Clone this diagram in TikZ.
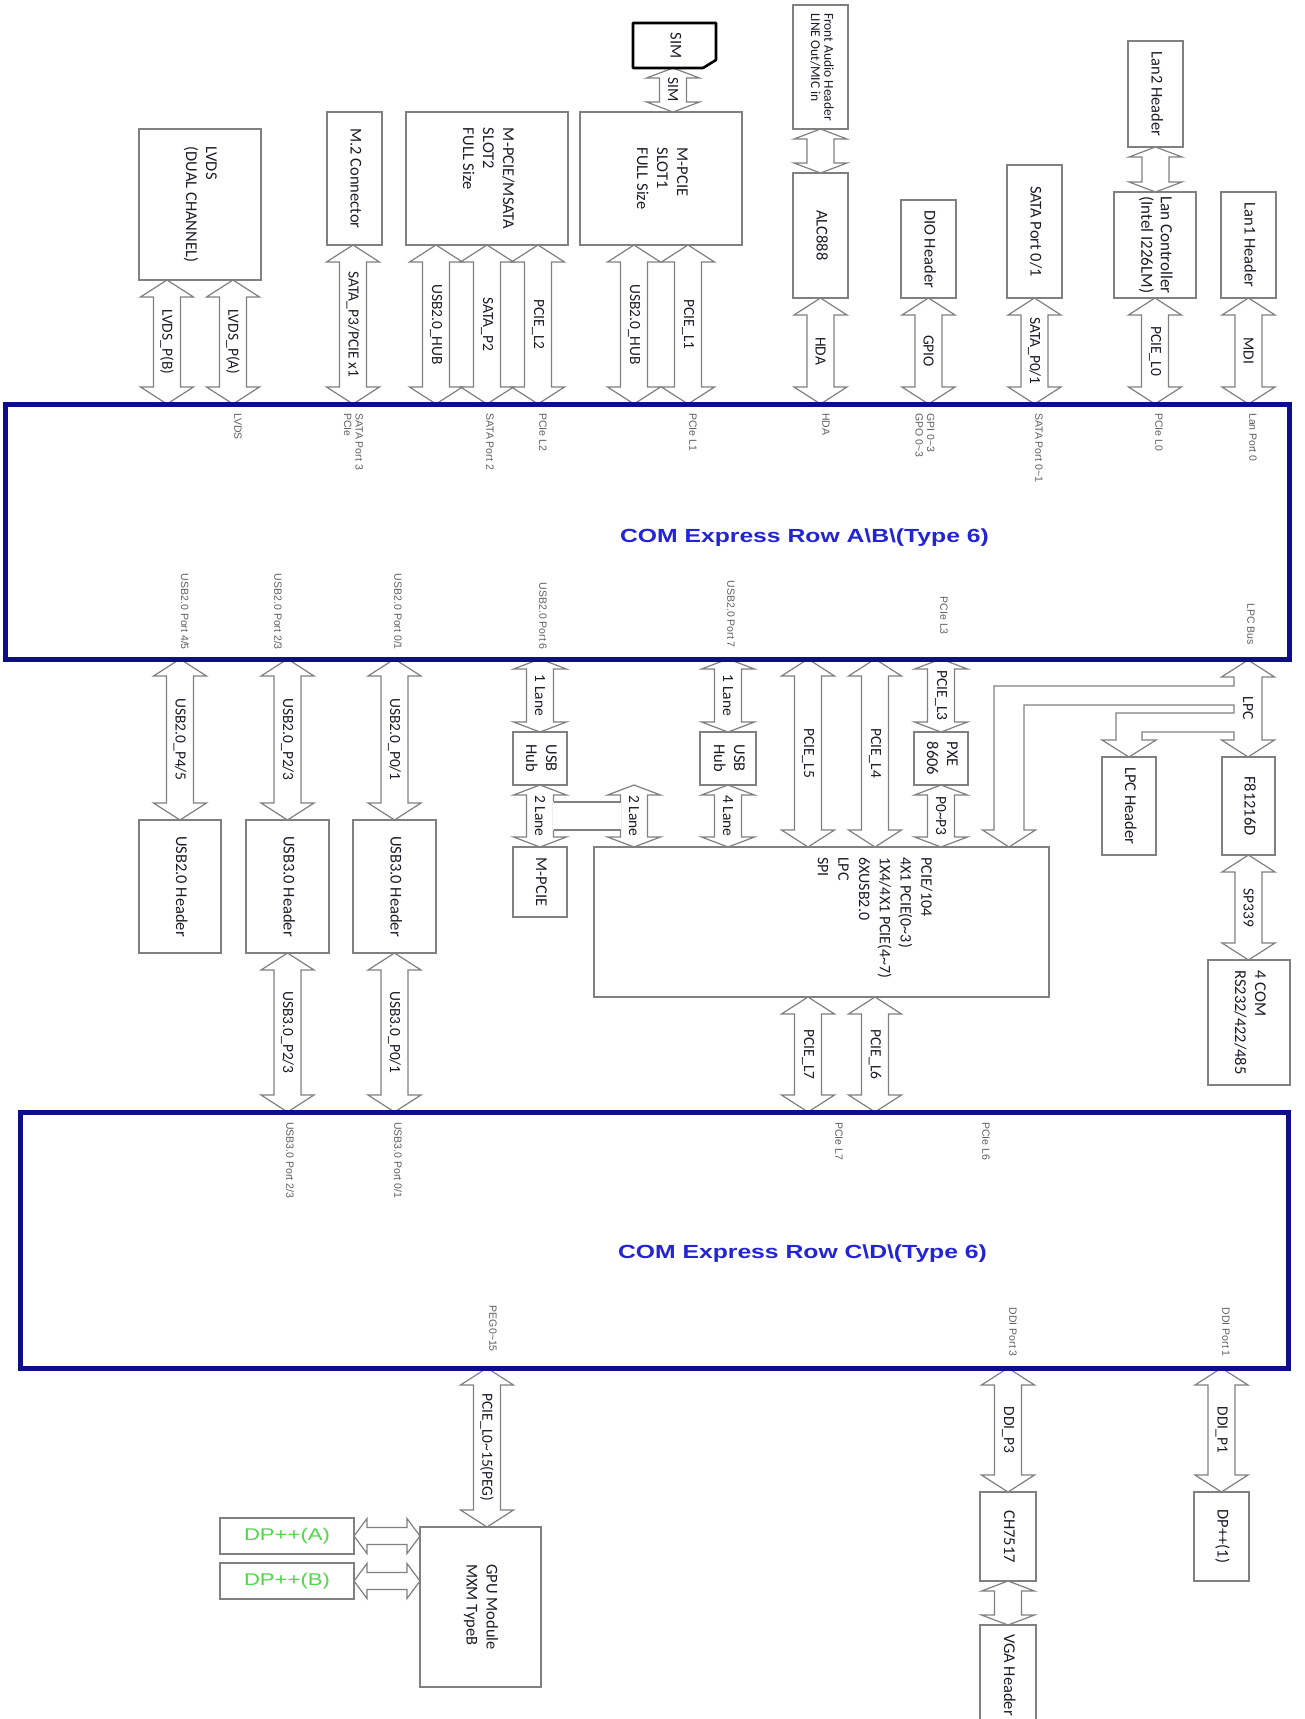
\documentclass[tikz,border=0pt]{standalone}
\usepackage{fontspec}
\setmainfont{Carlito}
\newfontfamily\arialf{Liberation Sans}
\usetikzlibrary{calc}
\definecolor{linegray}{RGB}{128,128,128}
\definecolor{txt}{RGB}{28,28,40}
\definecolor{portgray}{RGB}{95,95,95}
\definecolor{comblue}{RGB}{14,14,140}
\definecolor{titleblue}{RGB}{35,35,215}
\definecolor{dpgreen}{RGB}{80,215,70}
\pgfdeclarelayer{bg}\pgfsetlayers{bg,main}
\newcommand\vt[1]{\rotatebox{-90}{\begin{tabular}{@{}l@{}}#1\end{tabular}}}
\tikzset{
  box/.style={draw=linegray, fill=white, line width=1.2pt, inner sep=0pt, outer sep=0pt,
    font=\fontsize{16.5}{20}\selectfont, text=txt},
  bus/.style={draw=linegray, fill=white, line width=1.2pt, line join=miter},
  buslab/.style={font=\fontsize{15.5}{18}\selectfont, text=txt, rotate=-90, inner sep=0pt},
  port/.style={font=\arialf\fontsize{10.5}{11.5}\selectfont, text=portgray, rotate=-90, inner sep=0pt, align=left},
  com/.style={draw=comblue, line width=5pt, inner sep=0pt, outer sep=0pt},
  comtitle/.style={font=\arialf\bfseries\fontsize{19}{22}\selectfont, text=titleblue, inner sep=0pt},
}
% box: [opts]{name}{x1}{y1}{x2}{y2}{text}
\newcommand\bx[7][]{\node[box,#1,minimum width={#5-#3},minimum height={#6-#4}] (#2) at ({(#3+#5)/2},{(#4+#6)/2}) {\vt{#7}};}
% vertical double block arrow: [head length]{name}{top tip}{bottom tip}{label}
\newcommand\vbus[5][17]{%
  \path[bus] let \p1=#3, \p2=#4 in
   (\x1,\y1) -- ({\x1+26.5pt},{\y1-#1pt}) -- ({\x1+13.5pt},{\y1-#1pt}) -- ({\x1+13.5pt},{\y2+#1pt})
   -- ({\x1+26.5pt},{\y2+#1pt}) -- (\x1,\y2) -- ({\x1-26.5pt},{\y2+#1pt}) -- ({\x1-13.5pt},{\y2+#1pt})
   -- ({\x1-13.5pt},{\y1-#1pt}) -- ({\x1-26.5pt},{\y1-#1pt}) -- cycle
   (\x1,{(\y1+\y2)/2}) node[buslab] (#2) {#5};}
% horizontal double block arrow: [head length]{name}{left tip}{right tip}
\newcommand\hbus[4][13]{%
  \path[bus] let \p1=#3, \p2=#4 in
   (\x1,\y1) -- ({\x1+#1pt},{\y1+17.5pt}) -- ({\x1+#1pt},{\y1+8.5pt}) -- ({\x2-#1pt},{\y1+8.5pt})
   -- ({\x2-#1pt},{\y1+17.5pt}) -- (\x2,\y1) -- ({\x2-#1pt},{\y1-17.5pt}) -- ({\x2-#1pt},{\y1-8.5pt})
   -- ({\x1+#1pt},{\y1-8.5pt}) -- ({\x1+#1pt},{\y1-17.5pt}) -- cycle
   (\x1,\y1) coordinate (#2);}
\newcommand\portT[4]{\node[port,anchor=west] (#1) at (#2,#3) {#4};}
\newcommand\portB[4]{\node[port,anchor=east] (#1) at (#2,#3) {#4};}

\begin{document}
\begin{tikzpicture}[x=1pt,y=-1pt]
\useasboundingbox (0,0) rectangle (1305,1719);
\begin{pgfonlayer}{bg}
\fill[white] (0,0) rectangle (1305,1719);
\end{pgfonlayer}

% ---------- COM Express boxes ----------
\node[com, minimum width=1284, minimum height=255] (ab) at (647,531.5) {};
\node[com, minimum width=1268, minimum height=256] (cd) at (654,1240) {};
\node[comtitle] (abt) at (804.5,538) {\scalebox{1.3}[1]{COM Express Row A\textbackslash B\textbackslash(Type 6)}};
\node[comtitle] (cdt) at (802.5,1254) {\scalebox{1.3}[1]{COM Express Row C\textbackslash D\textbackslash(Type 6)}};

% ---------- top boxes ----------
\bx{lvds}{139}{129}{261}{280}{LVDS\\(DUAL CHANNEL)}
\bx{mtwo}{327}{112}{382}{245}{M.2 Connector}
\bx{mpcieb}{406}{112}{568}{245}{M-PCIE/MSATA\\SLOT2\\FULL Size}
\bx{mpciea}{580}{112}{742}{245}{M-PCIE\\SLOT1\\FULL Size}
\bx[draw=none]{sim}{633}{23}{716}{68}{SIM}
\draw[line width=2.6pt, black, line join=round] (sim.north west) -- (sim.north east)
  -- ($(sim.south east)+(0,-8)$) -- ($(sim.south east)+(-13,0)$) -- (sim.south west) -- cycle;
\bx[font=\fontsize{13.5}{12.5}\selectfont]{faudio}{793}{5}{848}{129}{Front Audio Header\\LINE Out/MIC in}
\bx{alc}{793}{173}{848}{298}{ALC888}
\bx{dio}{901}{200}{956}{298}{DIO Header}
\bx{satab}{1007}{165}{1062}{298}{SATA Port 0/1}
\bx{lantwo}{1128}{41}{1183}{147}{Lan2 Header}
\bx[font=\fontsize{17}{19.5}\selectfont]{lanc}{1114}{192}{1196}{298}{Lan Controller\\(Intel I226LM)}
\bx{lanone}{1221}{192}{1276}{298}{Lan1 Header}

% ---------- middle boxes ----------
\bx{usbtwoh}{139}{820}{221}{953}{USB2.0 Header}
\bx{usbtha}{246}{820}{329}{953}{USB3.0 Header}
\bx{usbthb}{353}{820}{436}{953}{USB3.0 Header}
\bx{hubl}{513}{732}{567}{785}{USB\\Hub}
\bx{mpcies}{513}{847}{567}{917}{M-PCIE}
\bx{hubr}{700}{732}{756}{785}{USB\\Hub}
\bx{pxe}{914}{732}{968}{785}{PXE\\8606}
\node[box, minimum width=455, minimum height=150] (bigbox) at (821.5,922) {};
\node[rotate=-90, anchor=west, align=left, inner sep=0pt, text=txt,
  font=\fontsize{16}{20.7}\selectfont] (bigtext) at (875,857)
  {PCIE/104\\4X1 PCIE(0\textasciitilde3)\\1X4/4X1 PCIE(4\textasciitilde7)\\6XUSB2.0\\LPC\\SPI};
\bx{lpch}{1102}{757}{1156}{855}{LPC Header}
\bx{fei}{1222}{757}{1275}{855}{F81216D}
\bx{comf}{1208}{960}{1290}{1085}{4 COM\\RS232/422/485}

% ---------- bottom boxes ----------
\bx{gpu}{420}{1527}{541}{1687}{GPU Module\\MXM TypeB}
\node[box, minimum width=134, minimum height=36, text=dpgreen,
  font=\arialf\fontsize{17}{19}\selectfont] (dpa) at (287,1536) {\scalebox{1.3}[1]{DP++(A)}};
\node[box, minimum width=134, minimum height=36, text=dpgreen,
  font=\arialf\fontsize{17}{19}\selectfont] (dpb) at (287,1581) {\scalebox{1.3}[1]{DP++(B)}};
\bx{ch}{980}{1492}{1036}{1581}{CH7517}
\bx{vga}{980}{1625}{1036}{1725}{VGA Header}
\bx{dpone}{1194}{1492}{1249}{1581}{DP++(1)}

% ---------- block arrows ----------
\begin{pgfonlayer}{bg}
\vbus{lvdsb}{($(lvds.south)+(-33,0)$)}{(ab.north)}{LVDS\_P(B)}
\vbus{lvdsa}{($(lvds.south)+(33,0)$)}{(ab.north)}{LVDS\_P(A)}
\vbus{satathree}{($(mtwo.south)+(-1.5,0)$)}{(ab.north)}{SATA\_P3/PCIE x1}
\vbus{hubb}{($(mpcieb.south)+(-51,0)$)}{(ab.north)}{USB2.0\_HUB}
\vbus{satap}{(mpcieb.south)}{(ab.north)}{SATA\_P2}
\vbus{pcietwo}{($(mpcieb.south)+(51,0)$)}{(ab.north)}{PCIE\_L2}
\vbus{huba}{($(mpciea.south)+(-27,0)$)}{(ab.north)}{USB2.0\_HUB}
\vbus{pcieone}{($(mpciea.south)+(27,0)$)}{(ab.north)}{PCIE\_L1}
\vbus[10]{simbus}{($(sim.south)+(-1.5,0)$)}{(mpciea.north)}{SIM}
\vbus[10]{fabus}{(faudio.south)}{(alc.north)}{}
\vbus{hda}{(alc.south)}{(ab.north)}{HDA}
\vbus{gpio}{(dio.south)}{(ab.north)}{GPIO}
\vbus{satazero}{(satab.south)}{(ab.north)}{SATA\_P0/1}
\vbus[10]{lanbus}{(lantwo.south)}{(lanc.north)}{}
\vbus{pciezero}{(lanc.south)}{(ab.north)}{PCIE\_L0}
\vbus{mdi}{(lanone.south)}{(ab.north)}{MDI}

\vbus{ufour}{(usbtwoh.north |- ab.south)}{(usbtwoh.north)}{USB2.0\_P4/5}
\vbus{utwo}{(usbtha.north |- ab.south)}{(usbtha.north)}{USB2.0\_P2/3}
\vbus{uzero}{(usbthb.north |- ab.south)}{(usbthb.north)}{USB2.0\_P0/1}
\vbus{uthtwo}{(usbtha.south)}{(usbtha.south |- cd.north)}{USB3.0\_P2/3}
\vbus{uthzero}{(usbthb.south)}{(usbthb.south |- cd.north)}{USB3.0\_P0/1}
\vbus[10]{laneonel}{(hubl.north |- ab.south)}{(hubl.north)}{1 Lane}
\vbus[10]{lanetwol}{(hubl.south)}{(mpcies.north)}{2 Lane}
\vbus[10]{lanetwor}{($(hubl.south)+(94,0)$)}{(bigbox.north)}{2 Lane}
\fill[white] (552.7,802) rectangle (621.3,830);
\draw[draw=linegray, line width=1.2pt] (553.5,802) -- (620.5,802) (553.5,830) -- (620.5,830);
\vbus[10]{laneoner}{(hubr.north |- ab.south)}{(hubr.north)}{1 Lane}
\vbus[10]{lanefour}{(hubr.south)}{(bigbox.north)}{4 Lane}
\vbus{pciefive}{($(bigbox.north |- ab.south)+(-13.5,0)$)}{(bigbox.north)}{PCIE\_L5}
\vbus{pciefour}{($(bigbox.north |- ab.south)+(53.5,0)$)}{(bigbox.north)}{PCIE\_L4}
\vbus[10]{pciethree}{(pxe.north |- ab.south)}{(pxe.north)}{PCIE\_L3}
\vbus[10]{pzero}{(pxe.south)}{(bigbox.north)}{P0\textasciitilde P3}
% LPC bus with its two branches
\path[bus] (1248,660) -- (1274.5,677) -- (1262,677) -- (1262,740) -- (1274.5,740) -- (1248,757)
  -- (1221.5,740) -- (1234,740) -- (1234,732) -- (1142,732) -- (1142,740) -- (1156,740)
  -- (1129,757) -- (1102,740) -- (1116,740) -- (1116,713) -- (1234,713) -- (1234,705)
  -- (1024,705) -- (1024,830) -- (1035.5,830) -- (1009,847) -- (982.5,830) -- (994,830)
  -- (994,686) -- (1234,686) -- (1234,677) -- (1221.5,677) -- cycle;
\node[buslab] (lpclab) at (1248,708) {LPC};
\vbus{spbus}{(fei.south)}{(comf.north)}{SP339}
\vbus{pcieseven}{($(bigbox.south)+(-13.5,0)$)}{(bigbox.south |- cd.north)}{PCIE\_L7}
\vbus{pciesix}{($(bigbox.south)+(53.5,0)$)}{(bigbox.south |- cd.north)}{PCIE\_L6}

\vbus{peg}{($(gpu.north |- cd.south)+(6.5,0)$)}{(gpu.north)}{PCIE\_L0\textasciitilde 15(PEG)}
\vbus{ddithree}{(ch.north |- cd.south)}{(ch.north)}{DDI\_P3}
\vbus[10]{vgabus}{(ch.south)}{(vga.north)}{}
\vbus{ddione}{(dpone.north |- cd.south)}{(dpone.north)}{DDI\_P1}
\hbus{dpabus}{(dpa.east)}{(dpa.east -| gpu.west)}
\hbus{dpbbus}{(dpb.east)}{(dpb.east -| gpu.west)}
\end{pgfonlayer}

% ---------- connector pin labels ----------
\portT{plvds}{238}{413}{LVDS}
\portT{psatathree}{353.5}{413}{SATA Port 3\\PCIe}
\portT{psatatwo}{490}{413}{SATA Port 2}
\portT{ppcietwo}{543}{413}{PCIe L2}
\portT{ppcieone}{693}{413}{PCIe L1}
\portT{phda}{826}{413}{HDA}
\portT{pgpio}{925}{413}{GPI 0\textasciitilde3\\GPO 0\textasciitilde3}
\portT{psatazero}{1039}{413}{SATA Port 0\textasciitilde1}
\portT{ppciezero}{1159}{413}{PCIe L0}
\portT{plan}{1253}{413}{Lan Port 0}
\portB{pufour}{185}{650}{USB2.0 Port 4/5}
\portB{putwo}{278}{650}{USB2.0 Port 2/3}
\portB{puzero}{398}{650}{USB2.0 Port 0/1}
\portB{pusix}{543}{650}{USB2.0 Port 6}
\portB{puseven}{731}{648}{USB2.0 Port 7}
\portB{ppciethree}{944}{635}{PCIe L3}
\portB{plpc}{1251}{645}{LPC Bus}
\portT{puthtwo}{290}{1122}{USB3.0 Port 2/3}
\portT{puthzero}{398}{1122}{USB3.0 Port 0/1}
\portT{ppcieseven}{839}{1122}{PCIe L7}
\portT{ppciesix}{986}{1122}{PCIe L6}
\portB{ppeg}{493}{1352}{PEG0\textasciitilde15}
\portB{pddithree}{1013}{1357}{DDI Port 3}
\portB{pddione}{1226}{1357}{DDI Port 1}
\end{tikzpicture}
\end{document}
